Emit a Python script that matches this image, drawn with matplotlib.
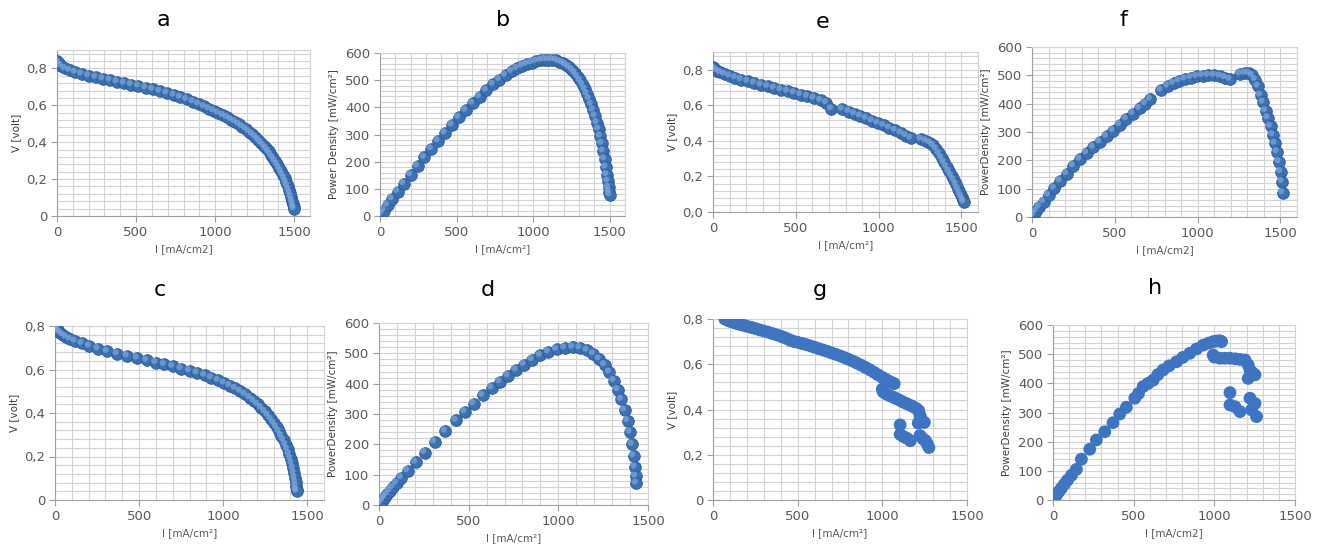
import matplotlib
matplotlib.use("Agg")
import matplotlib.pyplot as plt
from matplotlib.ticker import MultipleLocator
from matplotlib.transforms import offset_copy

# ---- panel a / b : cell 1 ----
I_a = [0, 10, 25, 50, 80, 115, 155, 200, 245, 290, 335, 380, 425, 470, 515, 560, 605, 650, 695, 740,
       780, 820, 860, 895, 930, 960, 990, 1020, 1050, 1075, 1100, 1125, 1150, 1172, 1194, 1215, 1235,
       1255, 1273, 1290, 1307, 1323, 1338, 1352, 1366, 1380, 1393, 1405, 1417, 1428, 1439, 1449, 1458,
       1467, 1475, 1482, 1488, 1493, 1497, 1500]
V_a = [0.84, 0.83, 0.815, 0.80, 0.79, 0.78, 0.77, 0.76, 0.752, 0.744, 0.736, 0.728, 0.72, 0.712, 0.704,
       0.695, 0.686, 0.676, 0.666, 0.655, 0.644, 0.632, 0.619, 0.607, 0.594, 0.582, 0.57, 0.558, 0.546,
       0.535, 0.523, 0.511, 0.498, 0.485, 0.472, 0.458, 0.444, 0.429, 0.414, 0.398, 0.382, 0.366, 0.35,
       0.333, 0.316, 0.298, 0.28, 0.262, 0.243, 0.224, 0.204, 0.184, 0.164, 0.143, 0.122, 0.102, 0.083,
       0.066, 0.05, 0.04]
P_b = [0, 8, 20, 40, 63, 90, 119, 152, 184, 216, 247, 277, 306, 335, 363, 389, 415, 439, 463, 485,
       502, 518, 532, 543, 552, 559, 564, 569, 573, 575, 575, 575, 573, 568, 563, 556, 548, 538, 527,
       513, 499, 484, 468, 450, 432, 411, 390, 368, 344, 320, 294, 267, 239, 210, 180, 152, 128, 105,
       90, 78]

# ---- panel c / d : cell 2 ----
I_c = [0, 8, 18, 30, 45, 65, 90, 120, 160, 205, 255, 310, 370, 430, 490, 545, 600, 650, 700, 750, 800,
       845, 890, 930, 970, 1005, 1040, 1072, 1102, 1130, 1157, 1182, 1205, 1227, 1248, 1267, 1285,
       1302, 1318, 1333, 1347, 1360, 1372, 1383, 1393, 1402, 1410, 1417, 1423, 1428, 1432, 1435,
       1437, 1438]
V_c = [0.80, 0.79, 0.78, 0.77, 0.76, 0.75, 0.74, 0.73, 0.72, 0.707, 0.695, 0.683, 0.672, 0.662, 0.652,
       0.642, 0.632, 0.623, 0.614, 0.604, 0.594, 0.584, 0.573, 0.562, 0.55, 0.538, 0.526, 0.513, 0.5,
       0.486, 0.471, 0.456, 0.44, 0.424, 0.407, 0.39, 0.372, 0.354, 0.335, 0.316, 0.296, 0.276, 0.255,
       0.234, 0.212, 0.19, 0.168, 0.146, 0.124, 0.102, 0.082, 0.063, 0.048, 0.04]
I_d = [0, 10, 20, 32, 45, 60, 78, 98, 125, 160, 205, 255, 310, 370, 430, 480, 530, 580, 630, 675, 720,
       765, 810, 855, 900, 945, 990, 1035, 1080, 1120, 1160, 1195, 1228, 1258, 1285, 1310, 1332, 1352,
       1370, 1386, 1400, 1412, 1421, 1428, 1432, 1435]
P_d = [0, 8, 16, 25, 35, 46, 58, 72, 90, 113, 141, 173, 208, 243, 279, 307, 334, 361, 386, 406, 426,
       445, 463, 479, 493, 505, 513, 518, 520, 518, 510, 498, 482, 462, 438, 410, 380, 348, 313, 278,
       240, 200, 162, 125, 95, 72]

# ---- panel e / f : cell 3 ----
I_e = [0, 10, 25, 45, 70, 100, 135, 170, 210, 250, 290, 330, 370, 410, 450, 490, 530, 570, 610, 650,
       685, 715, 780, 820, 855, 890, 925, 960, 995, 1030, 1065, 1100, 1135, 1165, 1195, 1255, 1285,
       1310, 1330, 1348, 1365, 1380, 1395, 1410, 1425, 1440, 1455, 1468, 1480, 1492, 1502, 1510, 1515]
V_e = [0.815, 0.805, 0.795, 0.785, 0.775, 0.765, 0.755, 0.745, 0.735, 0.725, 0.715, 0.706, 0.697,
       0.688, 0.679, 0.67, 0.66, 0.65, 0.64, 0.628, 0.615, 0.58, 0.578, 0.565, 0.552, 0.54, 0.527,
       0.513, 0.5, 0.487, 0.473, 0.459, 0.445, 0.43, 0.415, 0.41, 0.4, 0.39, 0.375, 0.355, 0.33, 0.305,
       0.28, 0.255, 0.23, 0.205, 0.18, 0.155, 0.13, 0.105, 0.085, 0.068, 0.055]
P_f = [0, 8, 20, 35, 54, 77, 102, 127, 153, 181, 204, 226, 246, 265, 285, 305, 326, 346, 365, 383,
       400, 416, 448, 462, 472, 480, 487, 492, 496, 499, 500, 500, 497, 492, 486, 505, 507, 507, 500,
       485, 462, 430, 405, 375, 350, 320, 290, 260, 230, 195, 160, 125, 85]

# ---- panel g / h : cell 4 (scattered points) ----
I_g = [70, 85, 100, 120, 140, 160, 180, 200, 225, 250, 275, 300, 325, 350, 375, 400, 420, 440, 460,
       480, 500, 525, 550, 575, 600, 625, 650, 675, 700, 725, 750, 775, 800, 825, 850, 875, 900, 925,
       950, 975, 1000, 1020, 1040, 1060, 1070, 1000, 1005, 1020, 1040, 1060, 1080, 1100, 1120, 1140,
       1160, 1180, 1200, 1215, 1222, 1228, 1236, 1248, 1212, 1105, 1105, 1125, 1145, 1165, 1222, 1240,
       1255, 1265, 1275]
V_g = [0.80, 0.795, 0.79, 0.785, 0.78, 0.776, 0.772, 0.768, 0.763, 0.758, 0.752, 0.747, 0.742, 0.736,
       0.73, 0.724, 0.718, 0.712, 0.705, 0.70, 0.697, 0.692, 0.687, 0.681, 0.675, 0.669, 0.663, 0.657,
       0.65, 0.644, 0.637, 0.63, 0.622, 0.614, 0.605, 0.596, 0.586, 0.576, 0.565, 0.553, 0.542, 0.533,
       0.525, 0.518, 0.514, 0.49, 0.478, 0.47, 0.462, 0.456, 0.449, 0.442, 0.434, 0.427, 0.42, 0.413,
       0.405, 0.395, 0.375, 0.36, 0.348, 0.343, 0.34, 0.332, 0.29, 0.28, 0.273, 0.262, 0.285, 0.27,
       0.262, 0.248, 0.232]
I_h = [0, 10, 21, 35, 52, 70, 90, 115, 145, 176, 228, 269, 321, 372, 414, 455, 507, 530, 559, 590, 621,
       650, 683, 720, 766, 805, 848, 890, 931, 965, 993, 1015, 1034, 1045, 993, 1000, 1034, 1065, 1097,
       1130, 1159, 1190, 1210, 1221, 1210, 1241, 1252, 1097, 1097, 1128, 1159, 1221, 1252, 1231, 1262]
P_h = [0, 8, 17, 28, 40, 54, 68, 85, 105, 140, 174, 206, 234, 265, 295, 318, 349, 365, 389, 400, 411,
       430, 446, 460, 474, 489, 503, 518, 531, 538, 543, 545, 546, 543, 497, 490, 486, 486, 486, 484,
       482, 480, 463, 446, 417, 434, 429, 368, 326, 320, 303, 349, 331, 309, 286]

V_ticks = [0, 0.2, 0.4, 0.6, 0.8]
V_labels = ["0", "0,2", "0,4", "0,6", "0,8"]
V_labels_e = ["0,0", "0,2", "0,4", "0,6", "0,8"]
P_ticks = [0, 100, 200, 300, 400, 500, 600]
I_ticks = [0, 500, 1000, 1500]

W, H = 1322, 552
fig = plt.figure(figsize=(W / 100, H / 100), dpi=100)
fig.patch.set_facecolor("white")

GRID = "#d4d4d4"
TXT = "#595959"
BLUE = "#3c70b3"


def box(left, top, right, bottom):
    # pixel box -> figure fraction
    return [left / W, 1 - bottom / H, (right - left) / W, (bottom - top) / H]


def setup(ax, xmax, ymax, yticks, ylabels, ystep, xlab, ylab):
    ax.set_xlim(0, xmax)
    ax.set_ylim(0, ymax)
    ax.set_xticks(I_ticks)
    ax.set_xticklabels([str(t) for t in I_ticks])
    ax.set_yticks(yticks)
    ax.set_yticklabels(ylabels)
    ax.xaxis.set_minor_locator(MultipleLocator(100))
    ax.yaxis.set_minor_locator(MultipleLocator(ystep))
    ax.grid(which="both", color=GRID, lw=0.8)
    ax.set_axisbelow(True)
    ax.tick_params(which="major", length=4, color="#a0a0a0", labelsize=9.5, labelcolor=TXT, pad=3)
    ax.tick_params(which="minor", length=0)
    for s in ["top", "right"]:
        ax.spines[s].set_color(GRID)
    for s in ["left", "bottom"]:
        ax.spines[s].set_color("#a0a0a0")
    ax.set_xlabel(xlab, fontsize=7.5, color=TXT, labelpad=4)
    ax.set_ylabel(ylab, fontsize=7.5, color="#404040", labelpad=4)


def spheres(ax, x, y):
    ax.scatter(x, y, s=70, color=BLUE, edgecolors="#2d5a94", linewidths=0.6, zorder=3)
    hi = offset_copy(ax.transData, fig=fig, x=-1.2, y=1.2, units="points")
    ax.scatter(x, y, s=20, color="#7ea7da", edgecolors="none", alpha=0.7, zorder=4, transform=hi)


def dots(ax, x, y):
    ax.scatter(x, y, s=85, color="#3f74c2", edgecolors="none", zorder=3)


# top row
ax = fig.add_axes(box(57, 50, 310, 216))
setup(ax, 1600, 0.9, V_ticks, V_labels, 0.04, "I [mA/cm2]", "V [volt]")
spheres(ax, I_a, V_a)

ax = fig.add_axes(box(380, 53, 625, 216))
setup(ax, 1600, 600, P_ticks, [str(t) for t in P_ticks], 20, "I [mA/cm²]", "Power Density [mW/cm²]")
spheres(ax, I_a, P_b)

ax = fig.add_axes(box(713, 52, 978, 212))
setup(ax, 1600, 0.9, V_ticks, V_labels_e, 0.04, "I [mA/cm²]", "V [volt]")
spheres(ax, I_e, V_e)

ax = fig.add_axes(box(1032, 47, 1297, 217))
setup(ax, 1600, 600, P_ticks, [str(t) for t in P_ticks], 20, "I [mA/cm2]", "PowerDensity [mW/cm²]")
spheres(ax, I_e, P_f)

# bottom row
ax = fig.add_axes(box(55, 326, 324, 500))
setup(ax, 1600, 0.8, V_ticks, V_labels, 0.04, "I [mA/cm²]", "V [volt]")
spheres(ax, I_c, V_c)

ax = fig.add_axes(box(379, 323, 648, 505))
setup(ax, 1500, 600, P_ticks, [str(t) for t in P_ticks], 20, "I [mA/cm²]", "PowerDensity [mW/cm²]")
spheres(ax, I_d, P_d)

ax = fig.add_axes(box(713, 319, 967, 500))
setup(ax, 1500, 0.8, V_ticks, V_labels, 0.04, "I [mA/cm²]", "V [volt]")
dots(ax, I_g, V_g)

ax = fig.add_axes(box(1053, 325, 1295, 500))
setup(ax, 1500, 600, P_ticks, [str(t) for t in P_ticks], 20, "I [mA/cm2]", "PowerDensity [mW/cm²]")
dots(ax, I_h, P_h)

# panel letters
letters = [("a", 163, 20), ("b", 503, 20), ("e", 823, 22), ("f", 1123, 20),
           ("c", 160, 290), ("d", 488, 290), ("g", 820, 290), ("h", 1155, 288)]
for t, px, py in letters:
    fig.text(px / W, 1 - py / H, t, fontsize=16, ha="center", va="center", color="black")

fig.savefig("out.png", dpi=100)
